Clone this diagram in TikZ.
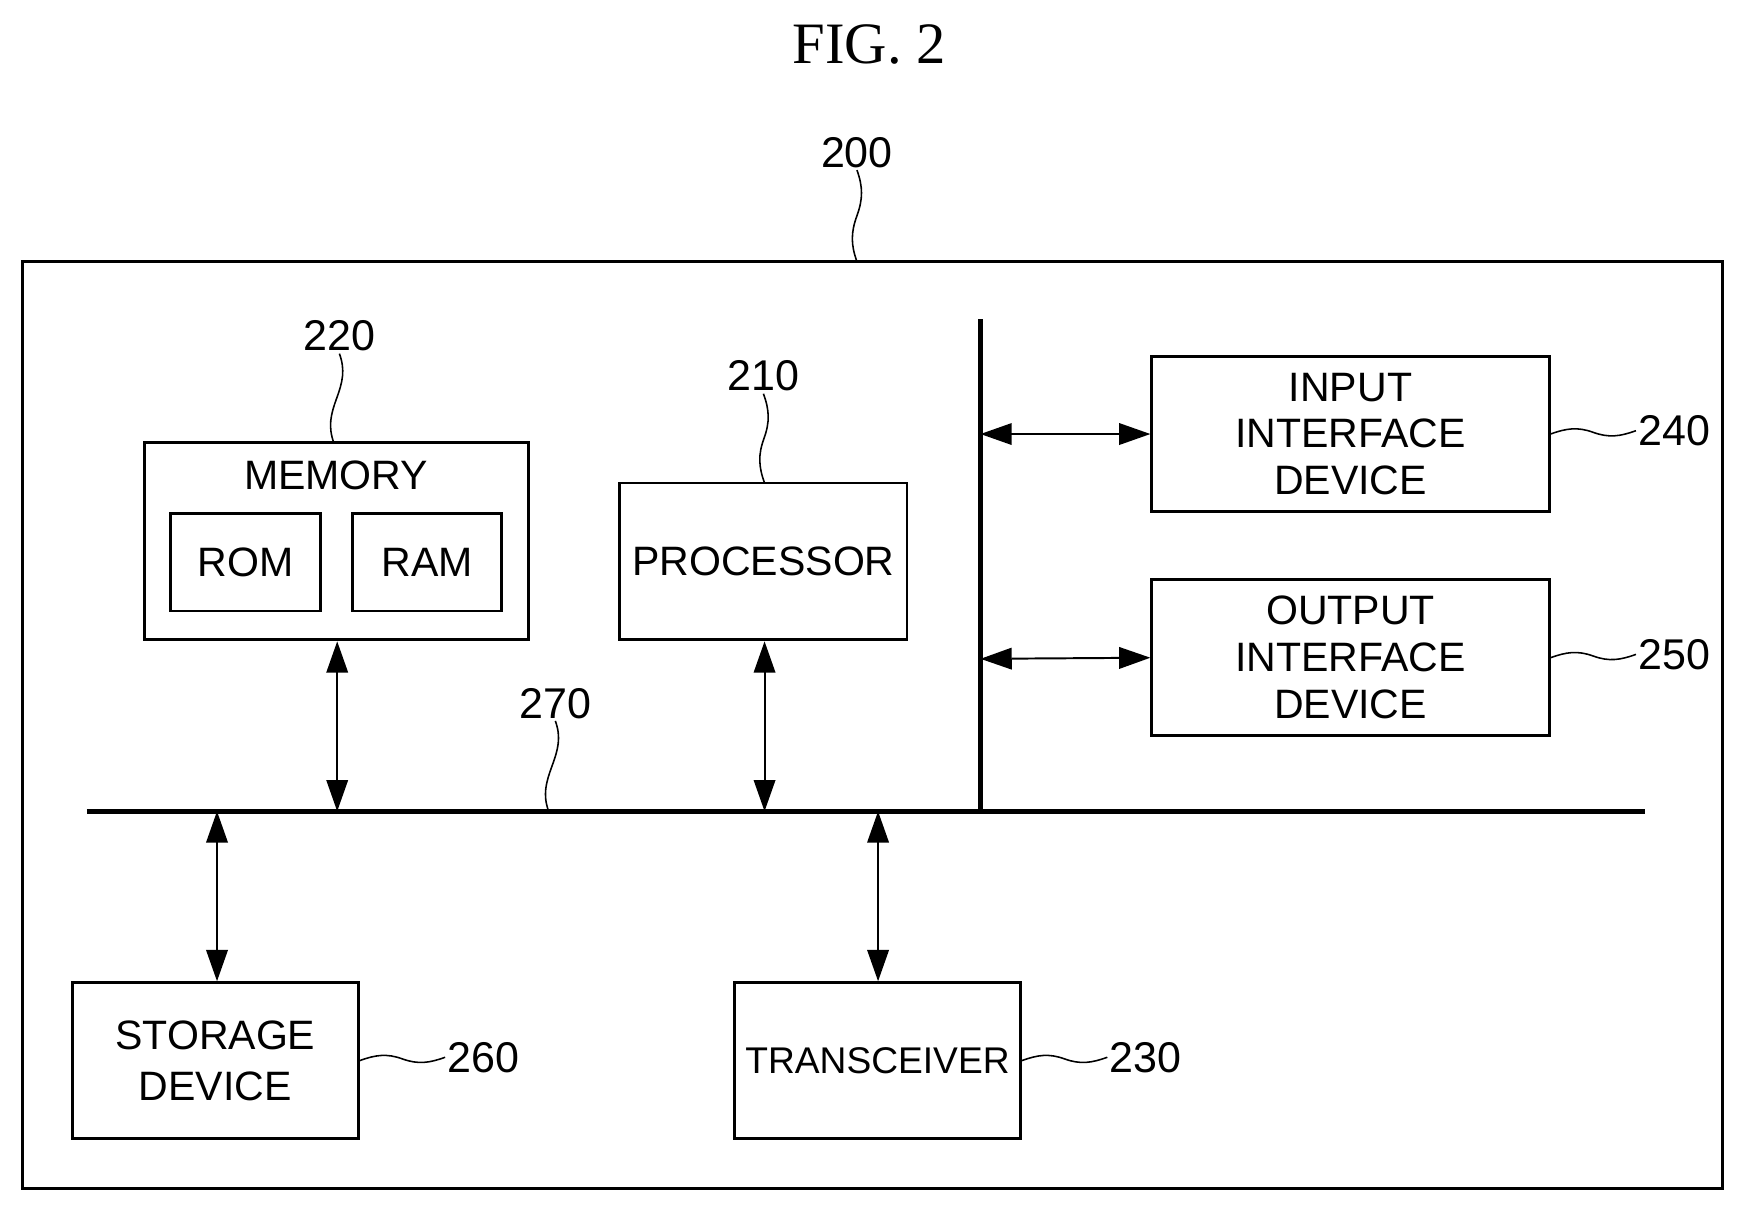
\documentclass[tikz,border=0pt]{standalone}
\usepackage{fontspec}
\setmainfont{Liberation Sans}
\newfontfamily\figfont{Liberation Serif}
\usetikzlibrary{arrows.meta,calc}
\begin{document}
\begin{tikzpicture}[x=0.02cm,y=-0.02cm,
  box/.style={draw,line width=1.5pt,inner sep=0pt,align=center,font=\fontsize{21}{24}\selectfont},
  num/.style={font=\fontsize{22}{24}\selectfont,inner sep=1pt},
  bus/.style={line width=2.6pt},
  arr/.style={line width=1pt,{Triangle[length=16pt,width=11pt]}-{Triangle[length=16pt,width=11pt]}},
  sq/.style={line width=0.8pt}]
\useasboundingbox (0,0) rectangle (1568,1088);
\node[font=\figfont\fontsize{30}{30}\selectfont] (fig) at (781,40) {FIG. 2};
\node[box,line width=1.8pt,minimum width=30.56cm,minimum height=16.66cm] (sys) at (784,651.5) {};
\node[box,minimum width=6.9cm,minimum height=3.54cm] (mem) at (302.5,486.5) {};
\node[box,draw=none] (memt) at (302,427) {MEMORY};
\node[box,minimum width=2.7cm,minimum height=1.76cm] (rom) at (220.5,505) {ROM};
\node[box,minimum width=2.68cm,minimum height=1.76cm] (ram) at (384,505) {RAM};
\node[box,minimum width=5.16cm,minimum height=2.82cm] (proc) at (686,504.5) {PROCESSOR};
\node[box,minimum width=7.14cm,minimum height=2.8cm] (in) at (1213.5,390) {INPUT\\INTERFACE\\DEVICE};
\node[box,minimum width=7.14cm,minimum height=2.8cm] (out) at (1213.5,591) {OUTPUT\\INTERFACE\\DEVICE};
\node[box,minimum width=5.14cm,minimum height=2.8cm,font=\fontsize{21}{26}\selectfont] (sto) at (193.5,953) {STORAGE\\DEVICE};
\node[box,minimum width=5.14cm,minimum height=2.8cm,font=\fontsize{19}{24}\selectfont] (trx) at (788.5,953) {TRANSCEIVER};
% buses
\coordinate (hl) at (78,729); \coordinate (hr) at (1478,729);
\coordinate (vt) at (881,287); \coordinate (vb) at (881,729);
\draw[bus] (hl) -- (hr);
\draw[bus] (vt) -- (vb);
\coordinate (bm) at (303,729); \coordinate (bp) at (687,729);
\coordinate (bs) at (195,729); \coordinate (bt) at (789,729);
\coordinate (vi) at (881,390); \coordinate (vo) at (881,592);
\draw[arr] (mem.south -| bm) -- (bm);
\draw[arr] (proc.south -| bp) -- (bp);
\draw[arr] (bs) -- (sto.north -| bs);
\draw[arr] (bt) -- (trx.north -| bt);
\draw[arr] (vi) -- (in.west);
\draw[arr] (vo) -- (out.west);
% labels
\node[num] (l200) at (770,137) {200};
\node[num] (l220) at (305,302) {220};
\node[num] (l210) at (686,338) {210};
\node[num] (l270) at (499,632) {270};
\node[num,anchor=west] (l240) at (1470,387) {240};
\node[num,anchor=west] (l250) at (1470,588) {250};
\node[num,anchor=west] (l260) at (400,950) {260};
\node[num,anchor=west] (l230) at (995,950) {230};
\coordinate (s200) at (770,235); \coordinate (s220) at (300,398);
\coordinate (s210) at (687,434); \coordinate (s270) at (493,729);
\draw[sq] (s200) to[out=110,in=-110] ($(s200)!0.5!(l200.south)$) to[out=70,in=-70] (l200.south);
\draw[sq] (s220) to[out=110,in=-110] ($(s220)!0.5!(l220.south)$) to[out=70,in=-70] (l220.south);
\draw[sq] (s210) to[out=110,in=-110] ($(s210)!0.5!(l210.south)$) to[out=70,in=-70] (l210.south);
\draw[sq] (s270) to[out=110,in=-110] ($(s270)!0.5!(l270.south)$) to[out=70,in=-70] (l270.south);
\draw[sq] (in.east) to[out=20,in=160] ($(in.east)!0.5!(l240.west)$) to[out=-20,in=200] (l240.west);
\draw[sq] (out.east) to[out=20,in=160] ($(out.east)!0.5!(l250.west)$) to[out=-20,in=200] (l250.west);
\draw[sq] (sto.east) to[out=20,in=160] ($(sto.east)!0.5!(l260.west)$) to[out=-20,in=200] (l260.west);
\draw[sq] (trx.east) to[out=20,in=160] ($(trx.east)!0.5!(l230.west)$) to[out=-20,in=200] (l230.west);
\end{tikzpicture}
\end{document}
